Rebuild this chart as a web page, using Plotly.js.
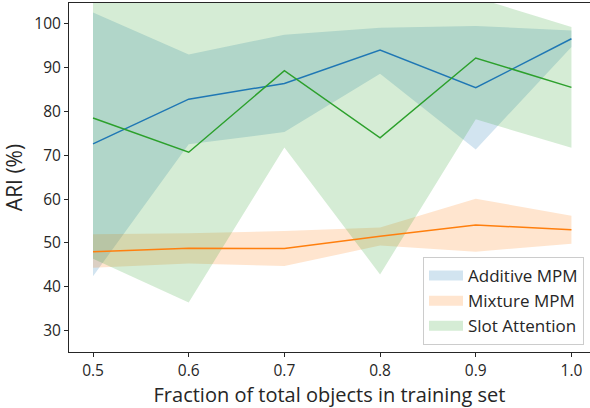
<!DOCTYPE html>
<html>
<head>
<meta charset="utf-8">
<script src="https://cdn.plot.ly/plotly-3.0.1.min.js"></script>
<style>
html,body{margin:0;padding:0;overflow:hidden;background:#fff;}
#chart{width:590px;height:408px;}
</style>
</head>
<body>
<div id="chart"></div>
<script>
// Data
const fractions = [0.5, 0.6, 0.7, 0.8, 0.9, 1.0];
const tickLabels = ["0.5", "0.6", "0.7", "0.8", "0.9", "1.0"];

const additiveMean  = [72.6, 82.8, 86.4, 94.0, 85.4, 96.6];
const additiveUpper = [102.6, 93.0, 97.5, 99.1, 99.5, 98.5];
const additiveLower = [42.4, 72.5, 75.3, 88.6, 71.3, 94.7];

const mixtureMean  = [48.0, 48.8, 48.7, 51.5, 54.1, 53.0];
const mixtureUpper = [52.0, 52.2, 52.7, 53.5, 60.1, 56.2];
const mixtureLower = [44.3, 45.3, 44.7, 49.4, 48.0, 49.8];

const slotMean  = [78.5, 70.7, 89.3, 74.0, 92.2, 85.5];
const slotUpper = [115.0, 115.0, 115.0, 115.0, 106.0, 99.3];
const slotLower = [46.4, 36.4, 71.8, 42.8, 78.2, 71.7];

const seriesNames = ["Additive MPM", "Mixture MPM", "Slot Attention"];
const lineColors = ["#1f77b4", "#ff7f0e", "#2ca02c"];
const fillColors = ["rgba(31,119,180,0.2)", "rgba(255,127,14,0.2)", "rgba(44,160,44,0.2)"];

const bands = [
  [additiveUpper, additiveLower, additiveMean],
  [mixtureUpper, mixtureLower, mixtureMean],
  [slotUpper, slotLower, slotMean]
];

const traces = [];
bands.forEach((b, i) => {
  traces.push({
    x: fractions, y: b[0], type: "scatter", mode: "lines",
    line: {width: 0, color: fillColors[i]}, showlegend: false, hoverinfo: "skip"
  });
  traces.push({
    x: fractions, y: b[1], type: "scatter", mode: "lines",
    line: {width: 0, color: fillColors[i]}, fill: "tonexty",
    fillcolor: fillColors[i], showlegend: false, hoverinfo: "skip"
  });
});
bands.forEach((b, i) => {
  traces.push({
    x: fractions, y: b[2], type: "scatter", mode: "lines",
    line: {width: 1.5, color: lineColors[i]}, showlegend: false
  });
});
// legend entries (patch-like swatches, no data of their own)
seriesNames.forEach((n, i) => {
  traces.push({
    x: [null], y: [null], type: "scatter", mode: "lines",
    line: {width: 11, color: fillColors[i]}, name: n, showlegend: true
  });
});

const font = "Open Sans, DejaVu Sans, sans-serif";
const layout = {
  width: 590, height: 408,
  margin: {l: 69, r: 0, t: 3, b: 56, pad: 0},
  paper_bgcolor: "#ffffff", plot_bgcolor: "#ffffff",
  font: {family: font, size: 15.5, color: "#262626"},
  xaxis: {
    range: [0.4749, 1.0194],
    tickvals: fractions, ticktext: tickLabels,
    ticks: "outside", ticklen: 4, tickwidth: 1, tickcolor: "#262626",
    showline: true, mirror: true, linecolor: "#262626", linewidth: 1,
    showgrid: false, zeroline: false,
    tickfont: {size: 15.5, family: font, color: "#262626"},
    title: {text: "Fraction of total objects in training set", font: {size: 20, family: font, color: "#262626"}, standoff: 11}
  },
  yaxis: {
    range: [25.1, 104.75],
    tickvals: [30, 40, 50, 60, 70, 80, 90, 100],
    ticks: "outside", ticklen: 4, tickwidth: 1, tickcolor: "#262626",
    showline: true, mirror: false, linecolor: "#262626", linewidth: 1,
    showgrid: false, zeroline: false,
    tickfont: {size: 15.5, family: font, color: "#262626"},
    title: {text: "ARI (%)", font: {size: 21, family: font, color: "#262626"}, standoff: 8}
  },
  legend: {
    x: 0.9885, xanchor: "right", y: 0.02, yanchor: "bottom",
    bgcolor: "rgba(255,255,255,0.8)", bordercolor: "#cccccc", borderwidth: 1,
    font: {size: 17, family: font, color: "#262626"},
    traceorder: "normal", itemwidth: 34
  },
  showlegend: true
};

Plotly.newPlot("chart", traces, layout, {displayModeBar: false, staticPlot: true});
</script>
</body>
</html>
